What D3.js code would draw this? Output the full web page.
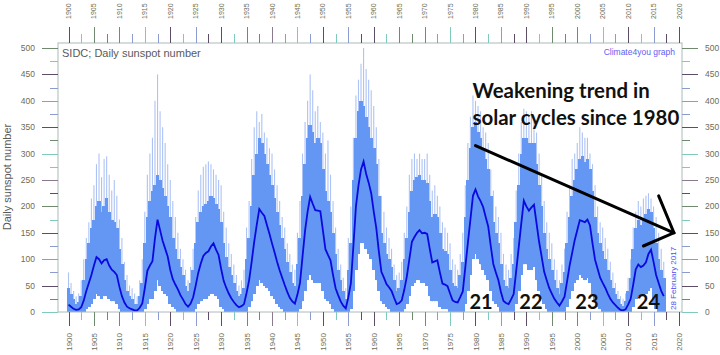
<!DOCTYPE html>
<html><head><meta charset="utf-8">
<script src="https://cdn.jsdelivr.net/npm/d3@7"></script>
<style>body{margin:0;background:#fff}svg{display:block}</style>
</head><body>
<script>
// ---- data (half-year steps starting 1900.0) ----
const startYear = 1900, stepYears = 0.5;
const smoothed = [
14,10,6,4,5,9,22,40,55,70,
88,104,100,92,98,100,88,80,76,70,
48,30,18,10,7,5,3,3,8,16,
45,78,88,96,140,175,155,135,120,105,
80,62,52,43,32,24,15,10,16,28,
50,74,92,106,112,115,124,130,118,108,
82,59,46,35,26,19,13,9,11,15,
36,60,95,133,165,195,188,182,165,148,
130,113,95,79,65,51,38,27,20,16,
33,55,105,154,190,218,205,193,192,191,
155,119,108,98,70,45,32,20,12,7,
28,54,125,200,240,270,285,262,245,225,
190,159,115,76,65,53,47,40,27,15,
17,22,42,67,100,133,142,150,155,149,
150,148,120,94,96,98,75,54,52,49,
35,22,19,18,28,39,85,131,175,220,
232,219,210,199,180,162,125,91,75,60,
38,21,17,15,24,34,78,123,168,211,
200,192,198,203,168,133,105,76,60,45,
35,25,18,12,20,29,58,88,112,136,
155,174,172,170,175,164,130,99,82,65,
55,46,35,25,18,13,8,4,3,5,
14,25,52,81,90,85,88,94,110,118,
95,70,55,40,30];
const bandHigh = [
45,35,25,15,18,30,60,100,130,160,
175,200,210,190,200,215,190,175,170,160,
120,90,60,40,30,25,15,15,30,55,
130,180,210,230,240,260,250,235,220,200,
180,140,120,100,85,70,50,40,55,80,
130,170,190,200,205,210,220,215,205,195,
170,130,105,85,70,55,40,30,35,45,
100,140,200,260,300,330,320,300,280,260,
240,215,190,165,140,120,95,75,55,50,
90,140,220,280,330,355,340,320,330,320,
270,230,210,190,150,110,80,60,40,25,
80,130,250,330,380,400,390,370,350,330,
310,280,220,150,130,110,100,85,60,40,
45,60,100,140,190,230,250,255,260,250,
250,245,210,180,185,180,150,120,115,110,
80,55,50,45,70,95,180,250,310,350,
360,340,330,310,290,270,220,170,150,130,
90,60,50,45,65,90,170,240,300,330,
330,320,320,320,280,240,200,150,120,100,
80,60,45,35,55,75,130,180,220,250,
270,290,295,285,290,270,230,180,150,130,
115,100,80,60,45,35,25,15,12,20,
40,65,120,160,175,165,175,185,195,190,
160,130,100,80,65];
const bandLow = [
0,0,0,0,0,0,0,5,10,15,
25,35,30,25,30,30,25,20,20,15,
5,0,0,0,0,0,0,0,0,0,
5,15,25,25,40,60,50,40,35,30,
15,10,5,0,0,0,0,0,0,0,
5,15,20,25,25,30,35,35,30,25,
10,5,0,0,0,0,0,0,0,0,
0,10,20,35,50,60,55,50,45,40,
30,25,15,10,5,0,0,0,0,0,
0,5,20,40,60,70,60,55,55,55,
40,25,20,15,5,0,0,0,0,0,
0,5,40,80,110,130,130,120,110,100,
80,60,40,20,15,10,5,0,0,0,
0,0,5,15,30,50,55,60,60,55,
55,50,30,20,20,20,10,5,5,5,
0,0,0,0,0,0,15,40,70,100,
110,100,90,80,70,60,40,20,15,10,
0,0,0,0,0,0,15,40,70,90,
90,80,80,85,60,40,25,15,5,0,
0,0,0,0,0,0,10,25,40,55,
60,70,65,60,65,55,35,20,10,5,
0,0,0,0,0,0,0,0,0,0,
0,0,10,25,30,30,30,35,40,45,
15,5,0,0,0];
const dailyPeak = [
75,55,40,30,35,60,100,140,170,215,
240,280,300,255,290,295,260,230,250,220,
175,140,95,70,50,45,35,30,60,100,
190,260,300,330,400,450,380,350,320,280,
250,210,180,150,120,100,80,60,85,120,
180,230,260,275,280,285,280,270,260,250,
240,190,160,130,110,90,70,50,60,80,
160,210,290,350,380,360,375,340,330,310,
300,270,240,210,180,160,130,110,90,80,
150,210,300,360,400,450,420,380,390,360,
340,300,325,260,210,160,120,90,65,45,
140,200,330,410,440,470,500,460,440,420,
390,350,290,220,190,160,140,120,90,70,
75,95,150,200,260,290,300,290,300,290,
290,300,260,230,240,220,200,170,160,150,
130,100,90,80,110,150,240,320,370,410,
400,390,380,350,340,320,270,230,200,180,
150,110,90,80,110,140,230,300,360,385,
380,370,380,360,340,300,260,210,170,150,
130,100,80,60,90,120,190,240,290,300,
320,350,340,330,330,300,280,240,200,170,
160,140,120,95,75,55,40,30,25,35,
65,100,160,190,210,200,215,220,225,215,
200,180,150,120,95];

const yearLabels = [1900,1905,1910,1915,1920,1925,1930,1935,1940,1945,1950,1955,1960,1965,1970,1975,1980,1985,1990,1995,2000,2005,2010,2015,2020];
const yTickValues = [0,50,100,150,200,250,300,350,400,450,500];
const cycleLabels = ["21","22","23","24"];
const cycleLabelYears = [1981.1,1990.9,2001.9,2014.0];
const trendLines = ["Weakening trend in","solar cycles since 1980"];
const trendArrowYears = [1980, 2019];
const trendArrowValues = [315, 150];
const arrowHeadYears = [2016, 2019, 2013];
const arrowHeadValues = [220, 150, 125];

// ---- layout ----
const W = 720, H = 355;
const P = {left:58, right:682, top:43, bottom:312};
const x = d3.scaleLinear().domain([1900,2020]).range([68.5,679]);
const y = d3.scaleLinear().domain([0,500]).range([312,48]);
const tYear = i => startYear + i*stepYears;

const svg = d3.select("body").append("svg").attr("width",W).attr("height",H);
svg.append("rect").attr("width",W).attr("height",H).attr("fill","#fff");

const g = svg.append("g");
const pts = smoothed.map((s,i)=>({t:tYear(i), s, hi:bandHigh[i], lo:bandLow[i], pk:dailyPeak[i]}));

// pale spikes
g.selectAll("line.spike").data(pts).join("line").attr("class","spike")
  .attr("x1",d=>x(d.t)).attr("x2",d=>x(d.t))
  .attr("y1",d=>y(d.lo)).attr("y2",d=>y(d.pk))
  .attr("stroke","#adc3f5").attr("stroke-width",1.1);
// dense band
const bw = x(1900+stepYears)-x(1900);
g.selectAll("rect.band").data(pts).join("rect").attr("class","band")
  .attr("x",d=>x(d.t)-bw/2-0.5).attr("width",bw+1)
  .attr("y",d=>y(d.hi)).attr("height",d=>Math.max(0,y(d.lo)-y(d.hi)))
  .attr("fill","#6496f3").attr("shape-rendering","crispEdges");
// smoothed line
g.append("path").datum(pts)
  .attr("d", d3.line().x(d=>x(d.t)).y(d=>y(d.s)))
  .attr("fill","none").attr("stroke","#0a0ae0").attr("stroke-width",1.8);

// frame
svg.append("rect").attr("x",P.left).attr("y",P.top)
  .attr("width",P.right-P.left).attr("height",P.bottom-P.top)
  .attr("fill","none").attr("stroke","#a9bcb9").attr("stroke-width",1);

// tick colors
const majorCols = ["#5e4d66","#6f8a6f","#8a7a90","#7fc9bd","#5e4d66","#8c9ccf"];
const minorCols = ["#7fc9bd","#6f8a6f","#8c9ccf","#8c9ccf","#7fc9bd","#5e4d66"];
const labelCol = "#6e6c58";
const fontAxis = "'Liberation Sans', Arial, sans-serif";

// x ticks (top & bottom)
const xTicks = d3.range(1900, 2020.01, 2.5);
xTicks.forEach((yr,i)=>{
  const major = (yr % 5) === 0;
  const col = major ? majorCols[(i/2)%majorCols.length] : minorCols[((i-1)/2)%minorCols.length];
  const xx = Math.round(x(yr))+0.5;
  svg.append("line").attr("x1",xx).attr("x2",xx)
    .attr("y1",P.top).attr("y2",major?27:34).attr("stroke",col);
  svg.append("line").attr("x1",xx).attr("x2",xx)
    .attr("y1",P.bottom).attr("y2",major?326:320).attr("stroke",col);
});
yearLabels.forEach(yr=>{
  svg.append("text").attr("transform",`translate(${x(yr)+2.5},19) rotate(-90)`)
    .attr("font-family",fontAxis).attr("font-size",7).attr("fill",labelCol).text(yr);
  svg.append("text").attr("transform",`translate(${x(yr)+3},333) rotate(-90)`)
    .attr("text-anchor","end")
    .attr("font-family",fontAxis).attr("font-size",8).attr("fill",labelCol).text(yr);
});

// y ticks (left & right)
const yTicks = d3.range(0, 500.01, 25);
yTicks.forEach((v,i)=>{
  const major = (v % 50) === 0;
  const col = major ? majorCols[(i/2+3)%majorCols.length] : minorCols[((i-1)/2+1)%minorCols.length];
  const yy = Math.round(y(v))+0.5;
  svg.append("line").attr("x1",P.left).attr("x2",major?42:50)
    .attr("y1",yy).attr("y2",yy).attr("stroke",col);
  svg.append("line").attr("x1",P.right).attr("x2",major?698:690)
    .attr("y1",yy).attr("y2",yy).attr("stroke",col);
});
yTickValues.forEach(v=>{
  svg.append("text").attr("x",35).attr("y",y(v)).attr("dy","0.35em")
    .attr("text-anchor","end").attr("font-family",fontAxis).attr("font-size",8.5)
    .attr("fill",labelCol).text(v);
  svg.append("text").attr("x",705).attr("y",y(v)).attr("dy","0.35em")
    .attr("font-family",fontAxis).attr("font-size",8.5)
    .attr("fill",labelCol).text(v);
});

// axis title
svg.append("text").attr("transform","translate(11,177) rotate(-90)")
  .attr("text-anchor","middle").attr("font-family",fontAxis).attr("font-size",11)
  .attr("fill","#5a5a5a").text("Daily sunspot number");

// titles
svg.append("text").attr("x",62).attr("y",57).attr("font-family",fontAxis)
  .attr("font-size",11).attr("fill","#5a5a5a").text("SIDC; Daily sunspot number");
svg.append("text").attr("x",675).attr("y",55).attr("text-anchor","end")
  .attr("font-family",fontAxis).attr("font-size",8.5).attr("fill","#6060f0").text("Climate4you graph");
svg.append("text").attr("transform","translate(676,310) rotate(-90)")
  .attr("font-family",fontAxis).attr("font-size",8).attr("fill","#5050f0").text("28 February 2017");

// annotation text
const fontAnn = "Lato, 'Open Sans', sans-serif";
const tl = trendLines.map((s,i)=> svg.append("text")
  .attr("x", x(1979.4)).attr("y", i===0 ? y(405) : y(354))
  .attr("font-family",fontAnn).attr("font-weight","bold").attr("font-size",20)
  .attr("fill","#111").text(s));
const w2 = tl[1].node().getComputedTextLength();
const fs = 20*207/w2;
tl.forEach(t=>t.attr("font-size",fs));

cycleLabels.forEach((s,i)=>{
  svg.append("text").attr("x",x(cycleLabelYears[i])).attr("y",y(5.5))
    .attr("text-anchor","middle").attr("font-family",fontAnn).attr("font-weight","bold")
    .attr("font-size",20).attr("fill","#111").text(s);
});

// arrow
svg.append("line")
  .attr("x1",x(trendArrowYears[0])).attr("y1",y(trendArrowValues[0]))
  .attr("x2",x(trendArrowYears[1])).attr("y2",y(trendArrowValues[1]))
  .attr("stroke","#000").attr("stroke-width",3).attr("stroke-linecap","round");
svg.append("path")
  .attr("d", d3.line()(arrowHeadYears.map((yr,i)=>[x(yr), y(arrowHeadValues[i])])))
  .attr("fill","none").attr("stroke","#000").attr("stroke-width",3)
  .attr("stroke-linejoin","miter").attr("stroke-linecap","round");
</script>
</body></html>
